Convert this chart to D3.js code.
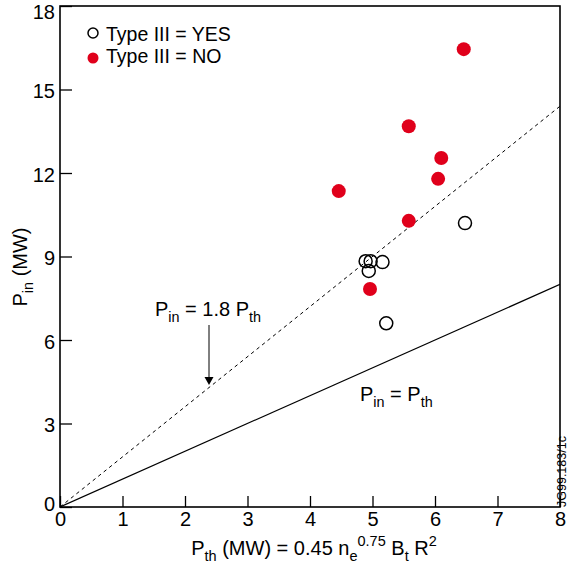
<!DOCTYPE html>
<html>
<head>
<meta charset="utf-8">
<script src="https://cdn.jsdelivr.net/npm/d3@7"></script>
<style>
  html, body { margin: 0; padding: 0; background: #fff; }
  text { font-family: "Liberation Sans", Arial, sans-serif; fill: #000; }
</style>
</head>
<body>
<svg id="chart" width="568" height="565"></svg>
<script>
// Data
const yesX = [6.48, 4.89, 4.97, 5.16, 4.94, 5.22];
const yesY = [10.2, 8.83, 8.83, 8.8, 8.48, 6.6];
const noX = [6.46, 5.58, 6.10, 6.05, 4.46, 5.58, 4.96];
const noY = [16.45, 13.68, 12.54, 11.79, 11.35, 10.28, 7.83];
const xTicks = [0, 1, 2, 3, 4, 5, 6, 7, 8];
const yTicks = [0, 3, 6, 9, 12, 15, 18];
const lineSlopes = [1, 1.8];

const svg = d3.select("#chart");
const pL = 60, pR = 560, pT = 6, pB = 507;
const x = d3.scaleLinear().domain([0, 8]).range([pL, pR]);
const y = d3.scaleLinear().domain([0, 18]).range([pB, pT]);

// Clip
svg.append("clipPath").attr("id", "clip").append("rect")
  .attr("x", pL).attr("y", pT).attr("width", pR - pL).attr("height", pB - pT);

// Reference lines
const g = svg.append("g").attr("clip-path", "url(#clip)");
g.append("line")
  .attr("x1", x(0)).attr("y1", y(0)).attr("x2", x(8)).attr("y2", y(8 * lineSlopes[0]))
  .attr("stroke", "#000").attr("stroke-width", 1.2);
g.append("line")
  .attr("x1", x(0)).attr("y1", y(0)).attr("x2", x(8)).attr("y2", y(8 * lineSlopes[1]))
  .attr("stroke", "#000").attr("stroke-width", 1).attr("stroke-dasharray", "3.5,3.5");

// Axes with inward ticks
const xAxis = d3.axisBottom(x).tickValues(xTicks).tickSize(-11).tickPadding(8).tickFormat(d3.format("d"));
const yAxis = d3.axisLeft(y).tickValues(yTicks).tickSize(-12).tickPadding(5).tickFormat(d3.format("d"));
const gx = svg.append("g").attr("transform", `translate(0,${pB})`).call(xAxis);
const gy = svg.append("g").attr("transform", `translate(${pL},0)`).call(yAxis);
[gx, gy].forEach(a => {
  a.select(".domain").remove();
  a.selectAll(".tick line").attr("stroke", "#000").attr("stroke-width", 1.3);
  a.selectAll(".tick text").style("font-size", "20px").style("font-family", "Liberation Sans, Arial, sans-serif").attr("fill", "#000");
});
gx.selectAll(".tick text").attr("dy", "0.55em");
gy.selectAll(".tick text").attr("dy", d => d === 18 ? "0.6em" : (d === 0 ? "0.15em" : "0.42em"));

// Frame
svg.append("rect").attr("x", pL).attr("y", pT).attr("width", pR - pL).attr("height", pB - pT)
  .attr("fill", "none").attr("stroke", "#000").attr("stroke-width", 1.6);

// Points
svg.append("g").selectAll("circle").data(noX.map((v, i) => [v, noY[i]])).join("circle")
  .attr("cx", d => x(d[0])).attr("cy", d => y(d[1])).attr("r", 7)
  .attr("fill", "#e0001b");
svg.append("g").selectAll("circle").data(yesX.map((v, i) => [v, yesY[i]])).join("circle")
  .attr("cx", d => x(d[0])).attr("cy", d => y(d[1])).attr("r", 6.5)
  .attr("fill", "none").attr("stroke", "#000").attr("stroke-width", 1.5);

// Legend
svg.append("circle").attr("cx", 93).attr("cy", 33).attr("r", 5).attr("fill", "#fff").attr("stroke", "#000").attr("stroke-width", 1.5);
svg.append("circle").attr("cx", 93).attr("cy", 58).attr("r", 5.5).attr("fill", "#e0001b");
svg.append("text").attr("x", 106).attr("y", 41).style("font-size", "19.5px").text("Type III = YES");
svg.append("text").attr("x", 106).attr("y", 63).style("font-size", "19.5px").text("Type III = NO");

// Helper for subscript text
function subText(parent, xx, yy, parts, size) {
  const t = parent.append("text").attr("x", xx).attr("y", yy).style("font-size", size + "px");
  parts.forEach(p => {
    const ts = t.append("tspan").text(p.t);
    if (p.sub) ts.style("font-size", (size * 0.72) + "px").attr("dy", size * 0.3);
    if (p.back) ts.attr("dy", p.back);
  });
  return t;
}

// Annotation P_in = 1.8 P_th
subText(svg, 155, 316, [
  {t: "P"}, {t: "in", sub: true}, {t: " = 1.8 P", back: -20 * 0.3}, {t: "th", sub: true}
], 20);
svg.append("line").attr("x1", 209).attr("y1", 325).attr("x2", 209).attr("y2", 378)
  .attr("stroke", "#000").attr("stroke-width", 1);
svg.append("path").attr("d", "M204.5,377 L213.5,377 L209,385 Z").attr("fill", "#000");

// Annotation P_in = P_th
subText(svg, 360, 401, [
  {t: "P"}, {t: "in", sub: true}, {t: " = P", back: -20 * 0.3}, {t: "th", sub: true}
], 20);

// X label
const xl = svg.append("text").attr("x", 314).attr("y", 555).attr("text-anchor", "middle").style("font-size", "20px");
xl.append("tspan").text("P");
xl.append("tspan").text("th").style("font-size", "14.5px").attr("dy", 6);
xl.append("tspan").text(" (MW) = 0.45 n").attr("dy", -6);
xl.append("tspan").text("e").style("font-size", "14.5px").attr("dy", 6);
xl.append("tspan").text("0.75").style("font-size", "14.5px").attr("dy", -15);
xl.append("tspan").text(" B").attr("dy", 9);
xl.append("tspan").text("t").style("font-size", "14.5px").attr("dy", 6);
xl.append("tspan").text(" R").attr("dy", -6);
xl.append("tspan").text("2").style("font-size", "14.5px").attr("dy", -9);

// Y label
const yl = svg.append("text").attr("transform", "translate(27,267) rotate(-90)").attr("text-anchor", "middle").style("font-size", "20px");
yl.append("tspan").text("P");
yl.append("tspan").text("in").style("font-size", "14.5px").attr("dy", 6);
yl.append("tspan").text(" (MW)").attr("dy", -6);

// Side code
svg.append("text").attr("transform", "translate(566,507) rotate(-90)").style("font-size", "12.5px").text("JG99.183/1c");
</script>
</body>
</html>
